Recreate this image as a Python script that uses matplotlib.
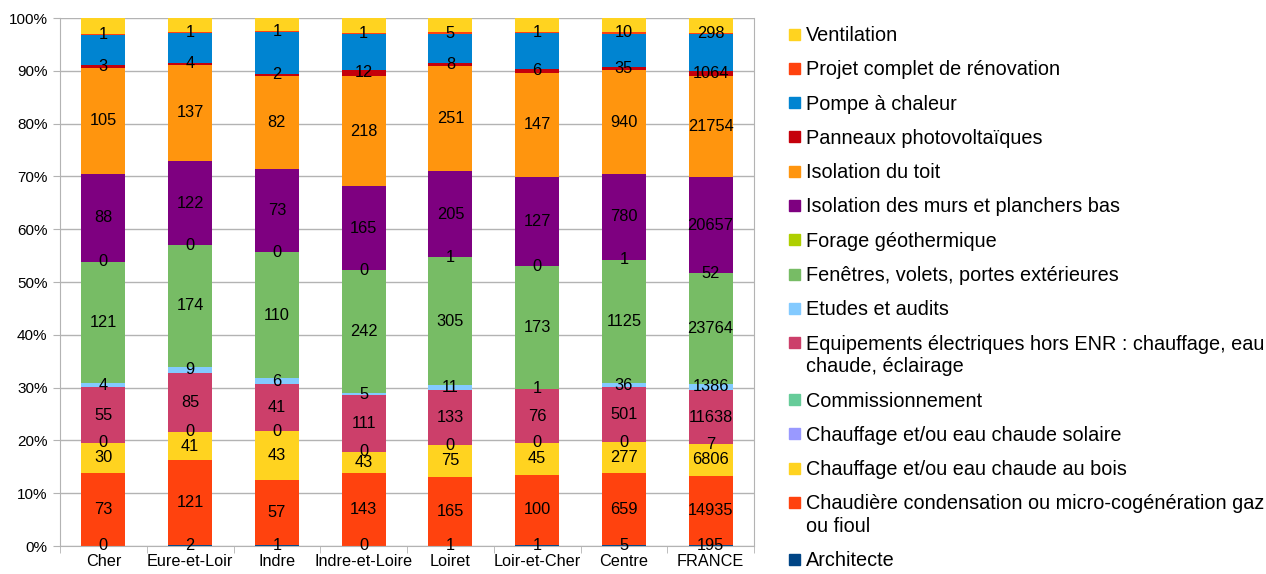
import matplotlib.pyplot as plt
from matplotlib.patches import Rectangle
from matplotlib.ticker import FixedLocator
import numpy as np

plt.rcParams['font.family'] = ['Liberation Sans', 'DejaVu Sans']

# categories
zones = ["Cher", "Eure-et-Loir", "Indre", "Indre-et-Loire", "Loiret",
         "Loir-et-Cher", "Centre", "FRANCE"]

# series, bottom to top
architecte = [0, 2, 1, 0, 1, 1, 5, 195]
chaudiere = [73, 121, 57, 143, 165, 100, 659, 14935]
chauffage_bois = [30, 41, 43, 43, 75, 45, 277, 6806]
chauffage_solaire = [0, 0, 0, 0, 0, 0, 0, 7]
commissionnement = [0, 0, 0, 0, 0, 0, 0, 0]
equip_electriques = [55, 85, 41, 111, 133, 76, 501, 11638]
etudes_audits = [4, 9, 6, 5, 11, 1, 36, 1386]
fenetres = [121, 174, 110, 242, 305, 173, 1125, 23764]
forage = [0, 0, 0, 0, 1, 0, 1, 52]
isolation_murs = [88, 122, 73, 165, 205, 127, 780, 20657]
isolation_toit = [105, 137, 82, 218, 251, 147, 940, 21754]
panneaux_pv = [3, 4, 2, 12, 8, 6, 35, 1064]
pompe_chaleur = [30, 43, 37, 71, 68, 51, 300, 7970]
projet_complet = [1, 1, 1, 1, 5, 1, 10, 298]
ventilation = [16, 20, 11, 30, 34, 20, 131, 3230]

series = [
    ("Architecte", architecte, "#004586", True),
    ("Chaudière condensation ou micro-cogénération gaz\nou fioul", chaudiere, "#ff420e", True),
    ("Chauffage et/ou eau chaude au bois", chauffage_bois, "#ffd320", True),
    ("Chauffage et/ou eau chaude solaire", chauffage_solaire, "#9999ff", True),
    ("Commissionnement", commissionnement, "#66cc99", False),
    ("Equipements électriques hors ENR : chauffage, eau\nchaude, éclairage", equip_electriques, "#cc3f6a", True),
    ("Etudes et audits", etudes_audits, "#83caff", True),
    ("Fenêtres, volets, portes extérieures", fenetres, "#77bc65", True),
    ("Forage géothermique", forage, "#aecf00", True),
    ("Isolation des murs et planchers bas", isolation_murs, "#7e0080", True),
    ("Isolation du toit", isolation_toit, "#ff950e", True),
    ("Panneaux photovoltaïques", panneaux_pv, "#c5000b", True),
    ("Pompe à chaleur", pompe_chaleur, "#0084d1", False),
    ("Projet complet de rénovation", projet_complet, "#ff420e", True),
    ("Ventilation", ventilation, "#ffd320", False),
]

W, H = 1266, 574
fig = plt.figure(figsize=(W / 100, H / 100), dpi=100)
ax = fig.add_axes([60 / W, 1 - 546 / H, 694 / W, 528 / H])

x = np.arange(len(zones))
totals = np.sum([s[1] for s in series], axis=0)
bottom = np.zeros(len(zones))
for name, vals, color, show in series:
    pct = np.array(vals) / totals * 100
    ax.bar(x, pct, 0.51, bottom=bottom, color=color, zorder=2)
    if show:
        for xi, b, p, v in zip(x, bottom, pct, vals):
            ax.text(xi, b + p / 2, str(v), ha="center", va="center",
                    fontsize=11.8, color="black", zorder=3)
    bottom += pct

grid_c = "#b3b3b3"
ax.set_xlim(-0.5, len(zones) - 0.5)
ax.set_ylim(0, 100)
ax.set_yticks(np.arange(0, 101, 10))
ax.set_yticklabels([f"{v}%" for v in range(0, 101, 10)], fontsize=11)
ax.yaxis.grid(True, color=grid_c, lw=1, zorder=0)
ax.set_xticks(x)
ax.set_xticklabels(zones, fontsize=11.7)
ax.xaxis.set_minor_locator(FixedLocator(np.arange(-0.5, len(zones), 1)))
ax.tick_params(axis="x", which="major", length=0, pad=6)
ax.tick_params(axis="x", which="minor", length=5, color=grid_c)
ax.tick_params(axis="y", length=5, color=grid_c, pad=4)
for sp in ax.spines.values():
    sp.set_color(grid_c)
ax.spines["top"].set_visible(False)

# legend drawn by hand, top to bottom, one text per line
y = 34
for name, vals, color, show in reversed(series):
    fig.patches.append(Rectangle((789 / W, 1 - (y + 5.5) / H), 11 / W, 11 / H,
                                 transform=fig.transFigure, color=color))
    for i, line in enumerate(name.split("\n")):
        fig.text(806 / W, 1 - (y + 7 + 22.5 * i) / H, line, fontsize=14.3,
                 va="baseline", ha="left")
    y += 34.3 + 22.5 * name.count("\n")

fig.savefig("out.png", dpi=100)
